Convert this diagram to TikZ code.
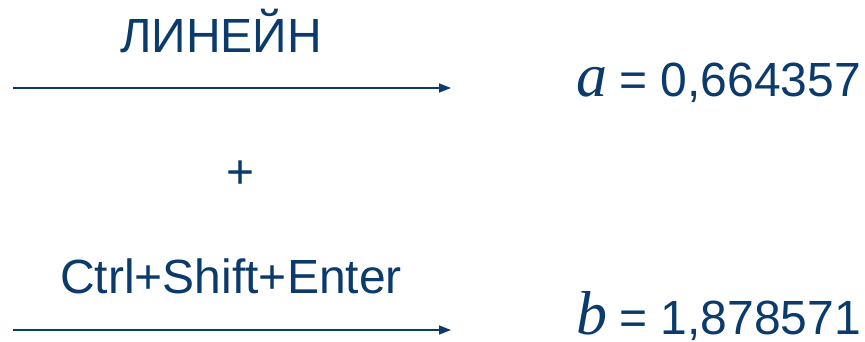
\documentclass[tikz,border=0pt]{standalone}
\usepackage{fontspec}
\setmainfont{Liberation Sans}
\newfontfamily\varfont{Liberation Serif}
\usetikzlibrary{arrows.meta}
\definecolor{navy}{HTML}{0B3A6C}
\begin{document}
\begin{tikzpicture}[x=1pt,y=-1pt,
  lbl/.style={inner sep=0pt,outer sep=0pt,text=navy,font=\fontsize{48}{50}\selectfont},
  var/.style={inner sep=0pt,outer sep=0pt,text=navy,font=\fontsize{62}{64}\selectfont\varfont\itshape},
  arr/.style={draw=navy,line width=1.6pt,-{Triangle[length=12pt,width=9pt]}}]
\useasboundingbox (0,0) rectangle (865,342);
\node[lbl,anchor=base] (t1) at (221,53) {ЛИНЕЙН};
\coordinate (s1) at (13,88);
\coordinate (e1) at (451,88);
\draw[arr] (s1) -- (e1);
\node[lbl,anchor=base] (plus) at (241,189) {+};
\node[lbl,anchor=base] (t2) at (231,293) {Ctrl+Shift+Enter};
\coordinate (s2) at (13,330);
\coordinate (e2) at (451,330);
\draw[arr] (s2) -- (e2);
\node[var,anchor=base west] (va) at (576,97) {a};
\node[lbl,anchor=base east] (ra) at (861,97) {= 0,664357};
\node[var,anchor=base west,text depth=0pt] (vb) at (576,334) {b};
\node[lbl,anchor=base east,text depth=0pt] (rb) at (861,334) {= 1,878571};
\end{tikzpicture}
\end{document}
